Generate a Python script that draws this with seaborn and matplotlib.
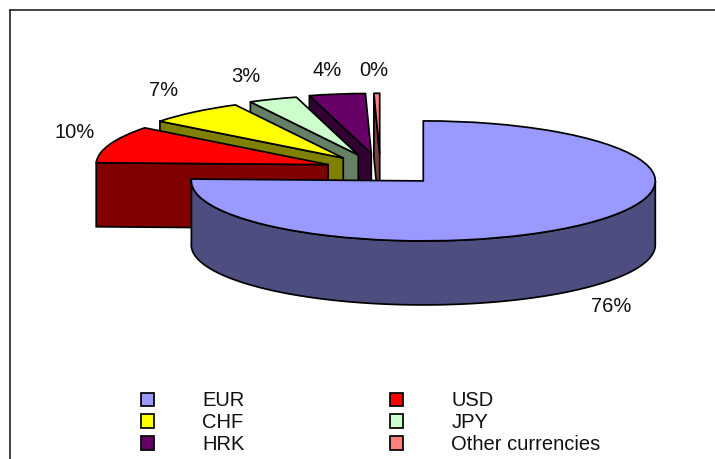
import numpy as np
import seaborn as sns
import matplotlib.pyplot as plt
from matplotlib.colors import to_rgb
from matplotlib.patches import Polygon

currencies = ['EUR', 'USD', 'CHF', 'JPY', 'HRK', 'Other currencies']
shares = [75.5, 10, 6.8, 3.4, 3.9, 0.4]
colors = ['#9999FF', '#FF0000', '#FFFF00', '#CCFFCC', '#660066', '#FF8080']

sns.set_theme(style='white')
plt.rcParams['font.family'] = ['Liberation Sans', 'DejaVu Sans']

# pixel layout of the picture, pie centre and ellipse size
W, H = 715, 459
cx, cy = 380.5, 169.5
rx, ry = 232, 60
left, right, top, bottom = 9.5, 720, 10, 470
depth = 64 / ry
explode = [0.265, 0.24, 0.25, 0.26, 0.27, 0.27]
label_px = [(611, 307), (75, 132), (164, 90), (246, 76), (327, 70), (374, 70)]
lw = 1.25


def to_data(px, py):
    return (px - cx) / rx, (cy - py) / ry


fig = plt.figure(figsize=(W / 100, H / 100), dpi=100)
ax = fig.add_axes([left / W, (H - bottom) / H, (right - left) / W, (bottom - top) / H])
wedges, _ = ax.pie(shares, colors=colors, explode=explode, startangle=90, counterclock=False,
                   wedgeprops={'edgecolor': 'black', 'linewidth': lw, 'joinstyle': 'round'})

# the pie call forces equal aspect, the squash into an ellipse comes from undoing it
ax.set_aspect('auto')
ax.set_xlim((left - cx) / rx, (right - cx) / rx)
ax.set_ylim((cy - bottom) / ry, (cy - top) / ry)
ax.set_frame_on(True)
for name, sp in ax.spines.items():
    sp.set_visible(name in ('left', 'top'))
    sp.set_color('#222222')
    sp.set_linewidth(1.2)

# side walls, back slices first so nearer ones paint over them
for i, (w, col) in enumerate(zip(wedges, colors)):
    z = 2 + 2 * (len(wedges) - i)
    w.set_zorder(z + 1)
    x0, y0 = w.center
    if w.theta1 < -90 < w.theta2:
        t = np.radians(np.linspace(w.theta1, 0, 200))
        xs = x0 + w.r * np.cos(t)
        ys = y0 + w.r * np.sin(t)
    else:
        t = np.radians(w.theta2)
        xs = np.array([x0 + w.r * np.cos(t), x0])
        ys = np.array([y0 + w.r * np.sin(t), y0])
    pts = np.vstack([np.column_stack([xs, ys]),
                     np.column_stack([xs[::-1], ys[::-1] - depth])])
    side = tuple(c * 0.5 for c in to_rgb(col))
    ax.add_patch(Polygon(pts, closed=True, facecolor=side, edgecolor='black',
                         linewidth=lw, zorder=z))

for v, (px, py) in zip(shares, label_px):
    x, y = to_data(px, py)
    ax.text(x, y, f'{v:.0f}%', ha='center', va='center', fontsize=14.5, color='#111111', zorder=30)

# column first filling, so this order gives EUR USD / CHF JPY / HRK Other
order = [0, 2, 4, 1, 3, 5]
leg = ax.legend([wedges[i] for i in order], [currencies[i] for i in order], ncol=2,
                loc='lower left', bbox_to_anchor=(141 / W, 5 / H), bbox_transform=fig.transFigure,
                frameon=False, fontsize=14.5, borderpad=0, borderaxespad=0,
                handlelength=0.65, handleheight=0.65, handletextpad=2.4,
                columnspacing=7.2, labelspacing=0.14)
for t in leg.get_texts():
    t.set_color('#111111')

fig.savefig('out.png', dpi=100)
